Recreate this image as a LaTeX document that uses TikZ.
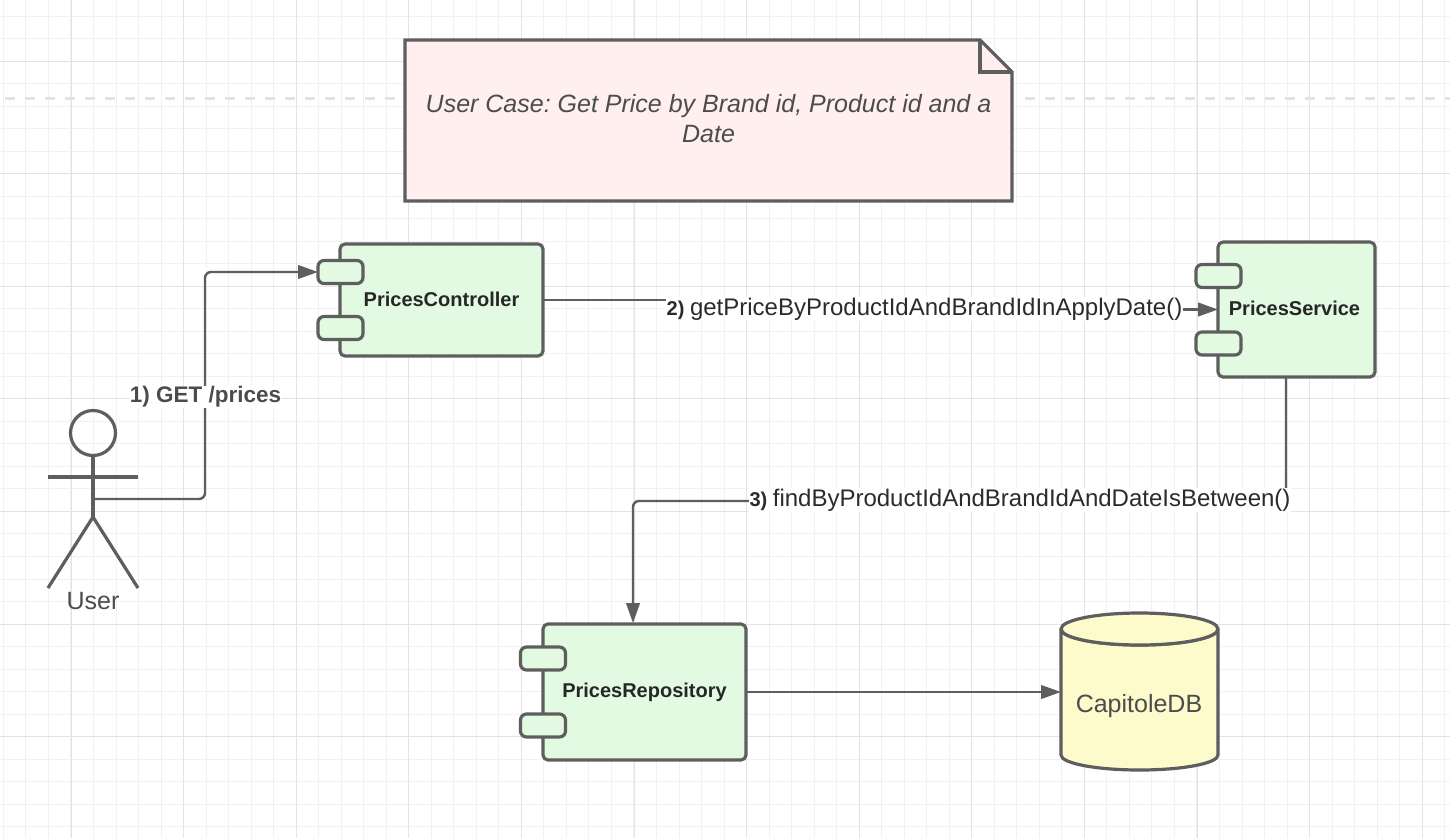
\documentclass[tikz,border=0pt]{standalone}
\usepackage{fontspec}
\setmainfont{Liberation Sans}
\usetikzlibrary{arrows.meta,calc,positioning}
\definecolor{ink}{HTML}{5E5E5E}
\definecolor{txt}{HTML}{4C4C4C}
\definecolor{dark}{HTML}{2B2B2B}
\definecolor{compfill}{HTML}{E2F9E2}
\definecolor{notefill}{HTML}{FFF0EF}
\definecolor{dbfill}{HTML}{FDFBCC}
\definecolor{gridminor}{HTML}{F1F1F1}
\definecolor{gridmajor}{HTML}{E3E3E3}
\newcommand{\fsz}[1]{\fontsize{#1}{#1}\selectfont}
\frenchspacing
\tikzset{
  x=1pt,y=-1pt,
  shapeline/.style={draw=ink,line width=3.2pt,line join=round},
  comp/.style={shapeline,fill=compfill,rounded corners=5pt,inner sep=0pt,outer sep=0pt,
    font=\fsz{20}\bfseries,text=black!85},
  port/.style={shapeline,fill=compfill,rounded corners=6pt,inner sep=0pt,outer sep=0pt,
    minimum width=45pt,minimum height=23pt},
  conn/.style={draw=ink,line width=2.4pt,rounded corners=6pt},
  tip/.style={-{Triangle[length=20pt,width=13.5pt,color=ink]}},
  lbl/.style={fill=white,inner sep=0.5pt,text=dark,font=\fsz{24}},
  lblone/.style={fill=white,inner sep=1pt,text=txt,font=\fsz{22.5}\bfseries},
  stick/.style={draw=ink,line width=3.2pt},
  plain/.style={inner sep=0pt,outer sep=0pt},
}
\begin{document}
\begin{tikzpicture}
\useasboundingbox (0,0) rectangle (1450,838);
\fill[white] (0,0) rectangle (1450,838);
% grid
\foreach \i in {0,...,64}{
  \draw[gridminor,line width=1pt] ({3.42+22.52*\i},0) -- ({3.42+22.52*\i},838);}
\foreach \i in {0,...,37}{
  \draw[gridminor,line width=1pt] (0,{16+22.52*\i}) -- (1450,{16+22.52*\i});}
\foreach \i in {0,...,12}{
  \draw[gridmajor,line width=1pt] ({71+112.6*\i},0) -- ({71+112.6*\i},838);}
\foreach \i in {0,...,6}{
  \draw[gridmajor,line width=1pt] (0,{61+112.6*\i}) -- (1450,{61+112.6*\i});}
% dashed page break
\draw[gridmajor,line width=3pt,dash pattern=on 10pt off 10pt] (5,98) -- (395,98);
\draw[gridmajor,line width=3pt,dash pattern=on 10pt off 10pt] (1025,98) -- (1450,98);
% note
\draw[shapeline,fill=notefill,line join=miter] (405,40) -- (980,40) -- (1012,72) -- (1012,201) -- (405,201) -- cycle;
\draw[shapeline,line join=miter] (980,40) -- (980,72) -- (1012,72);
\node[plain,align=center,text=txt,font=\fsz{25}\itshape] (note) at (708.5,119)
  {User Case: Get Price by Brand id, Product id and a\\[5pt]Date};
% components
\node[comp,minimum width=203pt,minimum height=112pt] (ctl) at (441.5,300) {\raisebox{2.5pt}{PricesController}};
\node[port] (ctlp1) at (340.5,272) {};
\node[port] (ctlp2) at (340.5,328) {};
\node[comp,minimum width=157pt,minimum height=135pt] (svc) at (1296.5,309.5) {\raisebox{2pt}{\hspace*{-4pt}PricesService}};
\node[port] (svcp1) at (1218.5,276) {};
\node[port] (svcp2) at (1218.5,343.5) {};
\node[comp,minimum width=203pt,minimum height=136pt] (repo) at (644.5,692) {\raisebox{1pt}{PricesRepository}};
\node[port] (repop1) at (543,658.5) {};
\node[port] (repop2) at (543,725.5) {};
% database
\node[plain,minimum width=157pt,minimum height=157pt] (db) at (1139.5,692) {};
\draw[shapeline,fill=dbfill] (1061,629) -- (1061,755) arc[start angle=180,end angle=360,x radius=78.5pt,y radius=15pt] -- (1218,629) arc[start angle=0,end angle=-180,x radius=78.5pt,y radius=16pt] -- cycle;
\draw[shapeline,fill=dbfill] (1139.5,629) ellipse[x radius=78.5pt,y radius=16pt];
\node[plain,text=txt,font=\fsz{25}] (dblabel) at (1139,706.5) {CapitoleDB};
% actor
\coordinate (neck) at (93,456);
\coordinate (hip) at (93,517);
\coordinate (handl) at (48,477);
\coordinate (handr) at (138,477);
\coordinate (footl) at (48,588);
\coordinate (footr) at (138,588);
\coordinate (actor) at (93,499);
\draw[stick] (93,433) circle[radius=22.5pt];
\draw[stick] (neck) -- (hip);
\draw[stick] (handl) -- (handr);
\draw[stick,line join=round] (footl) -- (hip) -- (footr);
\node[plain,text=txt,font=\fsz{25}] (userlabel) at (93,601) {User};
% connectors
\draw[conn,tip] (actor) -- (205,499) -- (205,272) -- (ctlp1.west);
\node[lblone] (l1) at (205.5,397) {1) GET /prices};
\coordinate (m2) at (880,300);
\draw[conn,rounded corners=0pt,tip] (ctl.east) -- (m2) -- (880,309.5) -- (svc.west);
\node[lbl] (l2) at (924.5,309) {\fsz{20}\textbf{2)} \fsz{24}getPriceByProductIdAndBrandIdInApplyDate()};
\coordinate (s3) at (1286,377);
\coordinate (e3) at (633,623);
\draw[conn,tip] (s3) -- (1286,501) -- (633,501) -- (e3);
\node[lbl] (l3) at (1020,500) {\fsz{20}\textbf{3)} \fsz{24}findByProductIdAndBrandIdAndDateIsBetween()};
\draw[conn,tip] (repo.east) -- (db.west);
\end{tikzpicture}
\end{document}
